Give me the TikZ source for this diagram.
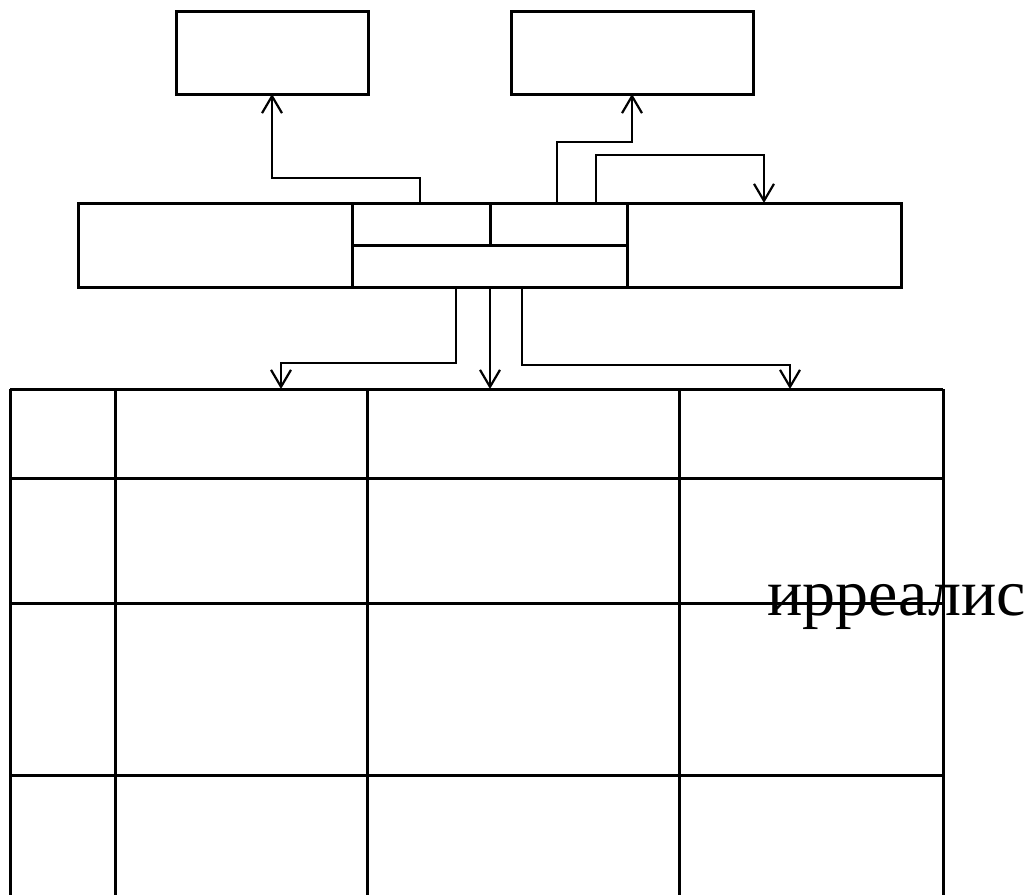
\documentclass[tikz,border=0pt]{standalone}
\usepackage{fontspec}
\setmainfont{Liberation Serif}
\usetikzlibrary{arrows.meta}
\tikzset{
  box/.style={draw, line width=3pt, rectangle, inner sep=0pt, outer sep=0pt},
  grid/.style={line width=3pt},
  link/.style={line width=2.2pt, -{Straight Barb[length=17pt,width=20pt]}},
}
\begin{document}
\begin{tikzpicture}[x=1pt, y=-1pt]
\useasboundingbox (0,0) rectangle (1033,894);

% upper boxes
\node[box, minimum width=192pt, minimum height=83pt] (tl) at (272,52.5) {};
\node[box, minimum width=242pt, minimum height=83pt] (tr) at (632,52.5) {};

% middle row of boxes
\node[box, minimum width=274pt, minimum height=84pt] (lb) at (215,245) {};
\node[box, minimum width=138pt, minimum height=42pt] (cl) at (421,224) {};
\node[box, minimum width=137pt, minimum height=42pt] (cr) at (558.5,224) {};
\node[box, minimum width=275pt, minimum height=42pt] (cb) at (489.5,266) {};
\node[box, minimum width=274pt, minimum height=84pt] (rb) at (764,245) {};

% table grid (open at the bottom)
\foreach \y in {389,478,603,775}
  \draw[grid] (10,\y) -- (943,\y);
\foreach \x in {10,115,367,679,943}
  \draw[grid] (\x,389) -- (\x,900);

% arrow targets on the table head
\coordinate (t1) at (281,389);
\coordinate (t2) at (490,389);
\coordinate (t3) at (790,389);

% connectors above the middle row
\draw[link] ([xshift=-1pt]cl.north) -- ++(0,-25) -| (tl.south);
\draw[link] ([xshift=-1.5pt]cr.north) -- ++(0,-61) -| (tr.south);
\draw[link] ([xshift=37.5pt]cr.north) -- ++(0,-48) -| (rb.north);

% connectors down to the table
\draw[link] ([xshift=-33.5pt]cb.south) -- ++(0,76) -| (t1);
\draw[link] (cb.south -| t2) -- (t2);
\draw[link] ([xshift=32.5pt]cb.south) -- ++(0,78) -| (t3);

% label
\node[anchor=base west, inner sep=0pt, font=\fontsize{66}{70}\selectfont] (irr) at (767,615) {ирреалис};
\end{tikzpicture}
\end{document}
